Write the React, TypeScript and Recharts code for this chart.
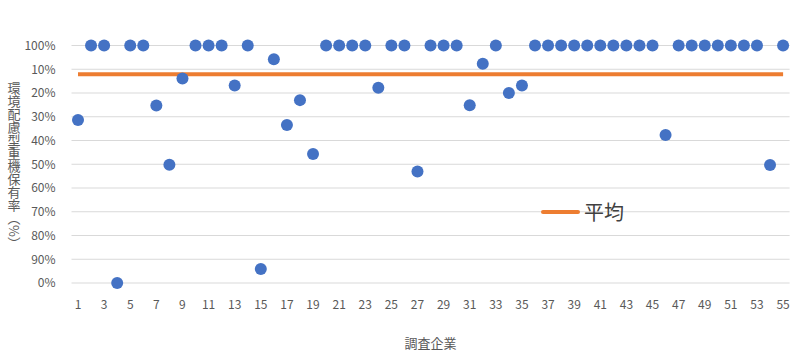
import { ComposedChart, Scatter, Line, XAxis, YAxis, CartesianGrid, Legend } from 'recharts'

// 調査企業 1..55
const companies = Array.from({ length: 55 }, (_, i) => i + 1)

// 環境配慮型重機保有率 (%)
const rates = [
  68.6, 100, 100, 0, 100, 100, 74.7, 49.8, 86.1, 100,
  100, 100, 83.2, 100, 5.9, 94.2, 66.5, 77, 54.3, 100,
  100, 100, 100, 82.2, 100, 100, 46.9, 100, 100, 100,
  74.8, 92.3, 100, 80, 83.2, 100, 100, 100, 100, 100,
  100, 100, 100, 100, 100, 62.3, 100, 100, 100, 100,
  100, 100, 100, 49.7, 100,
]

const average = 87.9

const yTicks = [0, 10, 20, 30, 40, 50, 60, 70, 80, 90, 100]

const data = companies.map((c, i) => ({ id: c, rate: rates[i], avg: average }))

const FONT = '"Noto Sans CJK JP", "Noto Sans", sans-serif'

// the original axis labels run 100%, 10%, 20% ... 90%, 0% from top to bottom
const fmtY = (v: number) => (v === 100 ? '100%' : v === 0 ? '0%' : `${100 - v}%`)

function YTitle() {
  return (
    <text
      x={14}
      y={166}
      textAnchor="middle"
      fill="#595959"
      fontSize={13}
      style={{ writingMode: 'vertical-rl', fontFamily: FONT }}
    >
      環境配慮型重機保有率（%）
    </text>
  )
}

function LegendBox() {
  return (
    <div style={{ display: 'flex', alignItems: 'center', fontFamily: FONT }}>
      <span style={{ display: 'inline-block', width: 39, height: 4, background: '#ED7D31', borderRadius: 2 }} />
      <span style={{ marginLeft: 4, fontSize: 20, color: '#404040' }}>平均</span>
    </div>
  )
}

export default function App() {
  return (
    <div style={{ position: 'absolute', left: 0, top: 0, background: '#fff' }}>
      <ComposedChart width={800} height={353} data={data} margin={{ top: 45.5, right: 10.4, bottom: 0, left: 0 }}>
        <CartesianGrid vertical={false} stroke="#d9d9d9" strokeWidth={1.2} />
        <XAxis
          dataKey="id"
          type="category"
          interval={1}
          padding={{ left: 6.5, right: 6.5 }}
          axisLine={false}
          tickLine={false}
          tickMargin={11}
          height={70}
          tick={{ fill: '#595959', fontSize: 12, fontFamily: FONT }}
          label={{ value: '調査企業', position: 'insideBottom', offset: 5, fill: '#595959', fontSize: 13, fontFamily: FONT }}
        />
        <YAxis
          type="number"
          domain={[0, 100]}
          ticks={yTicks}
          tickFormatter={fmtY}
          axisLine={false}
          tickLine={false}
          tickMargin={10}
          width={71.5}
          tick={{ fill: '#595959', fontSize: 12, fontFamily: FONT }}
          label={<YTitle />}
        />
        <Legend
          layout="horizontal"
          verticalAlign="middle"
          align="center"
          content={<LegendBox />}
          wrapperStyle={{ left: 541, top: 197, width: 'auto' }}
        />
        <Line
          dataKey="avg"
          name="平均"
          stroke="#ED7D31"
          strokeWidth={4}
          dot={false}
          isAnimationActive={false}
        />
        <Scatter
          dataKey="rate"
          legendType="none"
          fill="#4472C4"
          isAnimationActive={false}
          shape={(p: any) => <circle cx={p.cx} cy={p.cy} r={6} fill="#4472C4" />}
        />
      </ComposedChart>
    </div>
  )
}
